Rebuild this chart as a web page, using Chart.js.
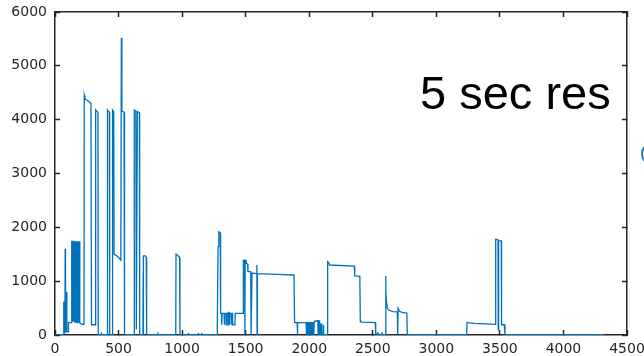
<!DOCTYPE html>
<html>
<head>
<meta charset="utf-8">
<script src="https://cdn.jsdelivr.net/npm/chart.js@4.4.1/dist/chart.umd.min.js"></script>
<style>
  html, body { margin: 0; padding: 0; background: #ffffff; }
</style>
</head>
<body>
<canvas id="c" width="644" height="356"></canvas>
<script>
// ---- data ----
const xTickValues = [0, 500, 1000, 1500, 2000, 2500, 3000, 3500, 4000, 4500];
const yTickValues = [0, 1000, 2000, 3000, 4000, 5000, 6000];
const annotationText = "5 sec res";

const seriesX = [
  0, 66, 68, 70, 78, 80, 83, 90, 93, 104, 106, 128,
  130, 133, 137, 140, 144, 147, 150, 153, 157, 160, 164, 167, 171, 174, 178, 181, 185, 188, 192, 195,
  210, 228, 230, 236, 245, 260, 275, 283, 286, 287, 318, 320, 330, 338, 340,
  362, 364, 366, 411, 413, 420, 428, 430, 451, 453, 462, 465, 480, 500, 518, 522, 525, 527, 543, 547,
  622, 624, 636, 640, 648, 664, 666,
  692, 694, 695, 696, 712, 718, 721,
  806, 808, 810, 950, 952, 965, 980, 983,
  1047, 1049, 1051, 1125, 1127, 1130, 1150, 1152, 1155,
  1275, 1277, 1283, 1287, 1290, 1300, 1303,
  1310, 1312, 1315, 1330, 1332, 1335, 1345, 1347, 1350, 1360, 1362, 1365, 1370, 1372, 1375, 1385, 1387, 1390, 1395, 1397, 1415, 1418,
  1480, 1482, 1492, 1494, 1496, 1503, 1505, 1515, 1518, 1540, 1543, 1548, 1550, 1585, 1588, 1590, 1592,
  1700, 1800, 1880, 1885,
  1905, 1907, 1910, 1975, 1978, 1980, 1983, 1986, 1989, 1992, 1995, 1998, 2001, 2004, 2007, 2010, 2013, 2016, 2019, 2022, 2025, 2028, 2031, 2034, 2037, 2040, 2045,
  2068, 2070, 2072, 2080, 2082, 2090, 2092, 2100, 2102, 2110, 2112, 2114, 2143,
  2145, 2155, 2160, 2355, 2358, 2398, 2402, 2405, 2410, 2520, 2523, 2530, 2540, 2545, 2570, 2572, 2575, 2598,
  2601, 2604, 2608, 2615, 2625, 2660, 2693, 2696, 2699, 2710, 2730, 2768, 2772,
  3239, 3242, 3260, 3300, 3400, 3465, 3467, 3485, 3487, 3490, 3511, 3513, 3535, 3540, 4314
];
const seriesY = [
  5, 5, 620, 40, 40, 1600, 60, 800, 60, 60, 230, 230,
  1750, 250, 1750, 240, 1750, 260, 1740, 230, 1740, 240, 1740, 260, 1740, 230, 1740, 240, 1740, 260, 1740, 220,
  200, 195, 4450, 4380, 4370, 4350, 4320, 4300, 1100, 190, 190, 4180, 4150, 4140, 5,
  5, 50, 5, 5, 4180, 4150, 4140, 5, 5, 4180, 4150, 1500, 1480, 1440, 1390, 5520, 5500, 4160, 4140, 5,
  5, 4180, 4160, 100, 4150, 4130, 5,
  5, 1150, 5, 1470, 1470, 1440, 5,
  5, 50, 5, 5, 1500, 1480, 1440, 5,
  5, 40, 5, 5, 40, 5, 5, 40, 5,
  5, 180, 1640, 1700, 1919, 1900, 400,
  400, 190, 400, 400, 190, 400, 400, 190, 400, 400, 190, 420, 420, 190, 400, 400, 190, 400, 400, 190, 190, 400,
  400, 1390, 1380, 5, 1390, 1380, 1330, 1320, 1180, 1175, 5, 5, 1150, 1140, 1300, 5, 1140,
  1130, 1120, 1115, 229,
  229, 5, 229, 229, 5, 240, 5, 240, 5, 240, 5, 240, 5, 240, 5, 240, 5, 240, 5, 240, 5, 240, 5, 240, 5, 250, 260,
  265, 5, 265, 260, 5, 5, 200, 200, 5, 5, 180, 5, 5,
  1362, 1340, 1300, 1280, 1096, 1090, 247, 260, 240, 230, 30, 5, 40, 5, 5, 50, 5, 5,
  1096, 800, 620, 500, 464, 433, 430, 5, 495, 440, 420, 409, 5,
  5, 236, 225, 215, 205, 199, 1777, 1770, 100, 1752, 1750, 190, 190, 5, 5
];

const points = seriesX.map((x, i) => ({ x: x, y: seriesY[i] }));

const axisColor = '#262626';

// shared axis styling: dark frame line and short inward tick marks
const frameBorder = { display: true, color: axisColor, width: 1.5 };
const inwardGrid = {
  display: true, drawOnChartArea: false, drawTicks: true,
  tickLength: -5, tickWidth: 1.5, tickColor: axisColor, color: axisColor
};
const labelFont = { family: '"DejaVu Sans", sans-serif', size: 14 };

const annotationPlugin = {
  id: 'annotation',
  afterDraw(chart) {
    const ctx = chart.ctx;
    ctx.save();
    ctx.fillStyle = '#000000';
    ctx.font = '47px "Liberation Sans", Arial, sans-serif';
    ctx.textAlign = 'left';
    ctx.textBaseline = 'alphabetic';
    ctx.fillText(annotationText, 420, 109);
    // partial circle at the right edge
    ctx.strokeStyle = '#2E75B6';
    ctx.lineWidth = 2;
    ctx.beginPath();
    ctx.arc(653, 154, 11, 0, Math.PI * 2);
    ctx.stroke();
    ctx.restore();
  }
};

new Chart(document.getElementById('c'), {
  type: 'line',
  data: {
    datasets: [{
      data: points,
      borderColor: '#0072BD',
      borderWidth: 1.3,
      pointRadius: 0,
      tension: 0,
      fill: false,
      xAxisID: 'x',
      yAxisID: 'y'
    }]
  },
  options: {
    responsive: false,
    animation: false,
    plugins: { legend: { display: false }, tooltip: { enabled: false } },
    layout: { padding: { left: 0, right: 17, top: 12, bottom: 0 } },
    scales: {
      x: {
        type: 'linear', position: 'bottom',
        min: 0, max: 4500,
        afterBuildTicks(s) { s.ticks = xTickValues.map(v => ({ value: v })); },
        afterFit(s) { s.height = 21; s.paddingLeft = 0; s.paddingRight = 0; },
        grid: inwardGrid,
        border: frameBorder,
        ticks: {
          color: axisColor, font: labelFont,
          padding: 11, maxRotation: 0, autoSkip: false,
          callback: v => String(v)
        }
      },
      x2: {
        type: 'linear', position: 'top', axis: 'x',
        min: 0, max: 4500,
        afterBuildTicks(s) { s.ticks = xTickValues.map(v => ({ value: v })); },
        afterFit(s) { s.height = 0; s.paddingLeft = 0; s.paddingRight = 0; },
        grid: inwardGrid,
        border: frameBorder,
        ticks: { display: false, autoSkip: false }
      },
      y: {
        type: 'linear', position: 'left',
        min: 0, max: 6000,
        afterBuildTicks(s) { s.ticks = yTickValues.map(v => ({ value: v })); },
        afterFit(s) { s.width = 55; s.paddingTop = 0; s.paddingBottom = 0; },
        grid: inwardGrid,
        border: frameBorder,
        ticks: {
          color: axisColor, font: labelFont,
          padding: 13, autoSkip: false,
          callback: v => String(v)
        }
      },
      y2: {
        type: 'linear', position: 'right', axis: 'y',
        min: 0, max: 6000,
        afterBuildTicks(s) { s.ticks = yTickValues.map(v => ({ value: v })); },
        afterFit(s) { s.width = 0; s.paddingTop = 0; s.paddingBottom = 0; },
        grid: inwardGrid,
        border: frameBorder,
        ticks: { display: false, autoSkip: false }
      }
    }
  },
  plugins: [annotationPlugin]
});
</script>
</body>
</html>
